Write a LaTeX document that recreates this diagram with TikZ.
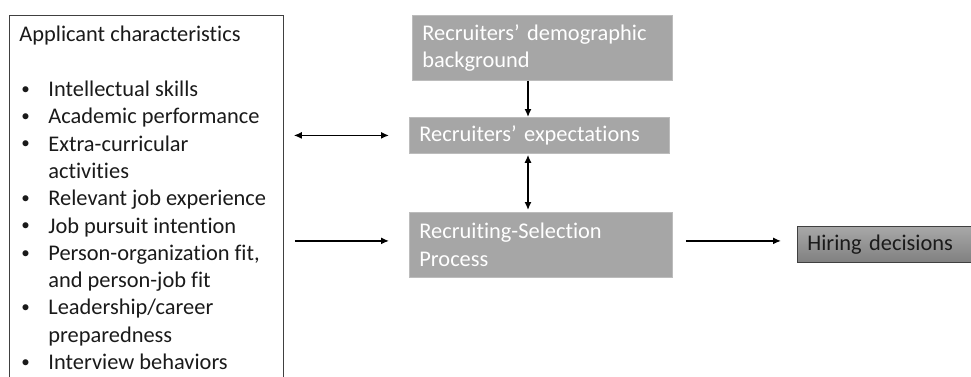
\documentclass[tikz,border=0pt]{standalone}
\usepackage{fontspec}
\setmainfont{Carlito}[Ligatures=NoCommon]
\usetikzlibrary{arrows.meta,calc}
\definecolor{boxgray}{RGB}{166,166,166}
\definecolor{boxedge}{RGB}{188,188,188}
\definecolor{ink}{RGB}{26,26,26}
\definecolor{frame}{RGB}{64,64,64}
\definecolor{hiretop}{RGB}{168,168,168}
\definecolor{hirebot}{RGB}{128,128,128}
% bullet and hanging indent for the applicant list
\newcommand\listbul{\makebox[29pt][l]{\hspace{2pt}\raisebox{2.2pt}{\fontsize{17}{17}\selectfont\textbullet}}}
\newcommand\listgap{\hspace*{29pt}}
\begin{document}
\begin{tikzpicture}[x=1pt,y=-1pt,
  every node/.style={font=\fontsize{22.4}{27.3}\selectfont},
  graybox/.style={draw=boxedge, fill=boxgray, text=white, line width=0.8pt,
    inner xsep=10pt, inner ysep=0pt, align=left, anchor=north west},
  arrowline/.style={line width=1.4pt, -{Latex[length=8pt,width=7pt]}},
  twoway/.style={line width=1.4pt, {Latex[length=8pt,width=7pt]}-{Latex[length=8pt,width=7pt]}}]
\clip (0,0) rectangle (971,376);

% applicant characteristics list
\node[draw=frame, line width=0.8pt, anchor=north west, inner xsep=10pt,
  inner ysep=11pt, text=ink] (app) at (9,15)
  {\parbox[c][348pt][t]{254pt}{\setlength{\parindent}{0pt}\raggedright
   Applicant characteristics\par
   \mbox{}\par
   \listbul Intellectual skills\par
   \listbul Academic performance\par
   \listbul Extra-curricular\par
   \listgap activities\par
   \listbul Relevant job experience\par
   \listbul Job pursuit intention\par
   \listbul Person-organization fit,\par
   \listgap and person-job fit\par
   \listbul Leadership/career\par
   \listgap preparedness\par
   \listbul Interview behaviors\par}};

% recruiter side
\node[graybox, text width=240pt, minimum height=65pt] (demo) at (412,15)
  {Recruiters’ demographic\\background};
\node[graybox, text width=240pt, minimum height=36pt] (exp) at (409,117)
  {Recruiters’ expectations};
\node[graybox, text width=243pt, minimum height=65pt] (rec) at (409,212)
  {Recruiting-Selection\\Process};

% outcome
\node[draw=frame, line width=0.8pt, top color=hiretop, bottom color=hirebot,
  text=ink, inner xsep=10pt, inner ysep=0pt, align=left, anchor=north west,
  text width=168pt, minimum height=36pt] (hire) at (797,226)
  {Hiring decisions};

% connectors
\coordinate (vx) at (528,0);
\draw[arrowline] (demo.south -| vx) -- (exp.north -| vx);
\draw[twoway, shorten <=1pt, shorten >=2pt] (exp.south -| vx) -- (rec.north -| vx);
\draw[twoway, shorten <=10pt, shorten >=20pt] (app.east |- exp.west) -- (exp.west);
\draw[arrowline, shorten <=11pt, shorten >=20pt]
  ([yshift=4pt]app.east |- rec.west) -- ([yshift=4pt]rec.west);
\draw[arrowline, shorten <=13pt, shorten >=16pt]
  ([yshift=4pt]rec.east) -- ([yshift=4pt]hire.west |- rec.east);
\end{tikzpicture}
\end{document}
